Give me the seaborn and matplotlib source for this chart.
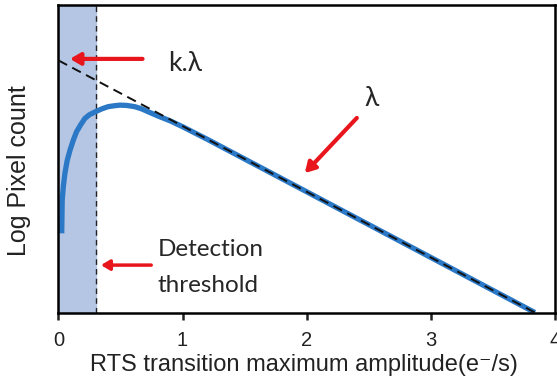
import numpy as np
import pandas as pd
import seaborn as sns
import matplotlib.pyplot as plt

# measured curve (log pixel count, arbitrary units)
amp = [0.026, 0.03, 0.04, 0.052, 0.07, 0.093, 0.12, 0.146, 0.18, 0.213, 0.25,
       0.3, 0.35, 0.4, 0.45, 0.495, 0.55, 0.615, 0.67, 0.72, 0.8, 0.9, 1.0,
       1.2, 2.0, 3.0, 3.84]
log_count = [2.59, 3.67, 4.15, 4.54, 4.95, 5.29, 5.62, 5.89, 6.12, 6.32, 6.44,
             6.54, 6.63, 6.70, 6.73, 6.75, 6.74, 6.70, 6.63, 6.54, 6.40, 6.24, 6.05,
             5.64, 3.94, 1.81, 0.02]

# exponential fit (straight line in log)
fit_x = [0.0, 3.85]
fit_y = [8.2, 0.0]

threshold = 0.3

sns.set_style("white")
plt.rcParams['font.family'] = ['Liberation Sans', 'DejaVu Sans']

fig = plt.figure(figsize=(5.57, 3.81), dpi=100)
ax = fig.add_axes([0.105, 0.178, 0.891, 0.809])

ax.axvspan(0, threshold, color="#b4c6e4", zorder=0)
ax.axvline(threshold, color="#222222", lw=1.0, ls=(0, (4, 3)), zorder=1)

curve = pd.DataFrame({"amp": amp, "log_count": log_count})
sns.lineplot(data=curve, x="amp", y="log_count", ax=ax, color="#2a78c6",
             lw=3.8, solid_capstyle="butt", zorder=2)
sns.lineplot(x=fit_x, y=fit_y, ax=ax, color="#111111", lw=1.4,
             zorder=3).lines[-1].set_linestyle((0, (5, 3)))

red = "#e8161c"
arrow = dict(arrowstyle="-|>,head_length=0.6,head_width=0.35", color=red, lw=3)
ax.annotate("", xy=(0.07, 8.25), xytext=(0.70, 8.25), arrowprops=arrow)
ax.annotate("", xy=(1.97, 4.48), xytext=(2.42, 6.4), arrowprops=arrow)
ax.annotate("", xy=(0.32, 1.56), xytext=(0.77, 1.56),
            arrowprops=dict(arrowstyle="-|>,head_length=0.5,head_width=0.3", color=red, lw=2.5))

ax.text(0.88, 8.1, "k.λ", fontsize=19, va="center", ha="left", family="Lato")
ax.text(2.52, 6.95, "λ", fontsize=19, va="center", ha="center", family="Lato")
ax.text(0.80, 2.08, "Detection", fontsize=17.5, va="center", ha="left", family="Lato")
ax.text(0.80, 0.9, "threshold", fontsize=17.5, va="center", ha="left", family="Lato")

ax.set_xlim(0, 4)
ax.set_ylim(0, 10)
ax.set_xticks([0, 1, 2, 3, 4])
ax.set_yticks([])
ax.tick_params(axis="x", direction="out", length=5, width=1.8, labelsize=14.5,
               bottom=True, colors="#222222", pad=8)
ax.set_xlabel("RTS transition maximum amplitude(e⁻/s)", fontsize=17, color="#222222")
ax.set_ylabel("Log Pixel count", fontsize=18, color="#222222")
ax.xaxis.set_label_coords(0.494, -0.132)
ax.yaxis.set_label_coords(-0.056, 0.464)
for s in ax.spines.values():
    s.set_color("black")
    s.set_linewidth(1.8)

fig.savefig("out.png", dpi=100)
